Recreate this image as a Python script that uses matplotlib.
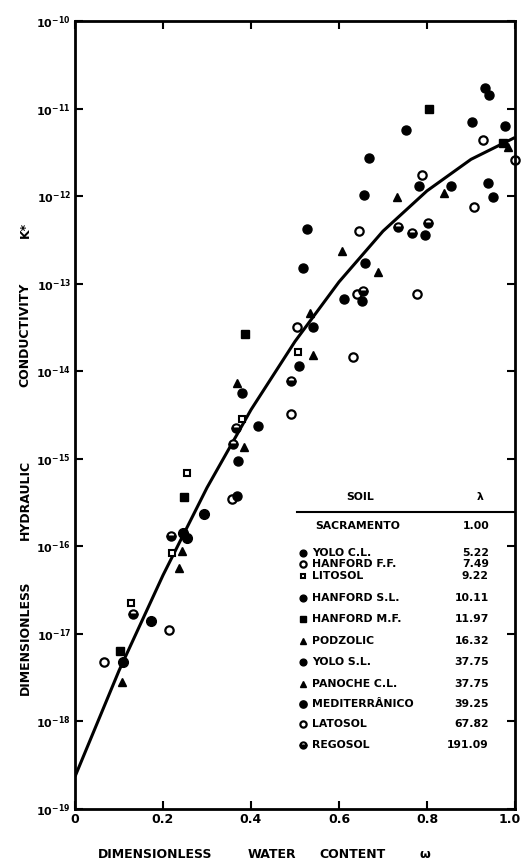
import matplotlib
matplotlib.use("Agg")
import matplotlib.pyplot as plt
import matplotlib.transforms as mtransforms
from matplotlib.ticker import NullLocator
import numpy as np

# Sacramento reference curve, log10 K*
curve_w = [0.0, 0.1, 0.2, 0.3, 0.4, 0.5, 0.6, 0.7, 0.8, 0.9, 1.0]
curve_logk = [-18.63, -17.42, -16.33, -15.33, -14.44, -13.66, -12.98, -12.40, -11.94, -11.58, -11.33]

# measured points per soil: water content w and log10 K*
yolo_cl_w = [0.932, 0.902, 0.752, 0.668, 0.657, 0.527, 0.518]
yolo_cl_k = [-10.76, -11.15, -11.24, -11.57, -11.99, -12.38, -12.82]

hanford_ff_w = [0.927, 0.789, 0.907, 0.645, 0.777, 0.632, 0.491, 0.357, 0.214, 0.066]
hanford_ff_k = [-11.36, -11.76, -12.13, -12.40, -13.12, -13.84, -14.49, -15.46, -16.96, -17.32]

litosol_w = [0.507, 0.380, 0.255, 0.220, 0.127]
litosol_k = [-13.78, -14.54, -15.16, -16.08, -16.65]

hanford_sl_w = [0.941, 0.977, 0.782, 0.855, 0.939, 0.950, 0.795, 0.659]
hanford_sl_k = [-10.85, -11.20, -11.89, -11.88, -11.85, -12.01, -12.44, -12.76]

hanford_mf_w = [0.805, 0.973, 0.386, 0.248, 0.102]
hanford_mf_k = [-11.01, -11.39, -13.58, -15.44, -17.20]

podzolic_w = [0.732, 0.839, 0.607, 0.689, 0.534, 0.541]
podzolic_k = [-12.01, -11.97, -12.63, -12.87, -13.34, -13.82]

yolo_sl_w = [0.611, 0.652, 0.541, 0.509, 0.380, 0.416, 0.370, 0.368]
yolo_sl_k = [-13.17, -13.20, -13.50, -13.94, -14.25, -14.63, -15.02, -15.42]

panoche_w = [0.984, 0.368, 0.384, 0.243, 0.236, 0.107]
panoche_k = [-11.44, -14.14, -14.87, -16.05, -16.25, -17.55]

mediterranico_w = [0.293, 0.245, 0.255, 0.173, 0.109]
mediterranico_k = [-15.63, -15.85, -15.90, -16.85, -17.32]

latosol_w = [1.0, 0.641, 0.505]
latosol_k = [-11.59, -13.12, -13.49]

regosol_w = [0.734, 0.766, 0.802, 0.655, 0.491, 0.366, 0.359, 0.218, 0.132]
regosol_k = [-12.35, -12.42, -12.31, -13.08, -14.11, -14.65, -14.83, -15.88, -16.77]

soil_names = ["YOLO C.L.", "HANFORD F.F.", "LITOSOL", "HANFORD S.L.", "HANFORD M.F.",
              "PODZOLIC", "YOLO S.L.", "PANOCHE C.L.", "MEDITERRÂNICO", "LATOSOL", "REGOSOL"]
soil_lambda = ["5.22", "7.49", "9.22", "10.11", "11.97", "16.32", "37.75", "37.75", "39.25", "67.82", "191.09"]

x_ticks = [0, 0.2, 0.4, 0.6, 0.8, 1.0]
x_ticklabels = ["0", "0.2", "0.4", "0.6", "0.8", "1.0"]
y_exps = list(range(-19, -9))

# marker styles per soil (same order as soil_names)
styles = [
    dict(marker="o", ms=6.5, mfc="black"),
    dict(marker="o", ms=6, mfc="white", mew=1.6),
    dict(marker="s", ms=4.5, mfc="white", mew=1.5),
    dict(marker="o", ms=6.5, mfc="black"),
    dict(marker="s", ms=5.5, mfc="black"),
    dict(marker="^", ms=6, mfc="black"),
    dict(marker="o", ms=6.5, mfc="black"),
    dict(marker="^", ms=5.5, mfc="black"),
    dict(marker="o", ms=7, mfc="black"),
    dict(marker="o", ms=6, mfc="white", mew=1.6),
    dict(marker="o", ms=6, mfc="black", fillstyle="bottom", markerfacecoloralt="white", mew=1.5),
]
series = [(yolo_cl_w, yolo_cl_k), (hanford_ff_w, hanford_ff_k), (litosol_w, litosol_k),
          (hanford_sl_w, hanford_sl_k), (hanford_mf_w, hanford_mf_k), (podzolic_w, podzolic_k),
          (yolo_sl_w, yolo_sl_k), (panoche_w, panoche_k), (mediterranico_w, mediterranico_k),
          (latosol_w, latosol_k), (regosol_w, regosol_k)]

W, H = 523, 867
fig = plt.figure(figsize=(W / 100, H / 100), dpi=100)
ax = fig.add_axes([75 / W, 1 - 809 / H, 440 / W, 788 / H])

ax.plot(curve_w, 10.0 ** np.array(curve_logk), color="black", lw=2.2, solid_capstyle="butt")

for (w, k), st in zip(series, styles):
    ax.plot(w, 10.0 ** np.array(k), ls="none", mec="black", clip_on=False, **st)

ax.set_xlim(0, 1.0)
ax.set_yscale("log")
ax.set_ylim(1e-19, 1e-10)
ax.set_xticks(x_ticks)
ax.set_xticklabels(x_ticklabels, fontsize=9, fontweight="bold")
ax.set_yticks([10.0 ** e for e in y_exps])
ax.set_yticklabels([r"$\mathbf{10^{%d}}$" % e for e in y_exps], fontsize=8)
ax.yaxis.set_minor_locator(NullLocator())
ax.tick_params(which="both", direction="in", top=True, right=True, length=6, width=1.5, pad=3)
for sp in ax.spines.values():
    sp.set_linewidth(2)

# keep the last x label inside the figure, as in the scan
last = ax.get_xticklabels()[-1]
last.set_transform(last.get_transform() + mtransforms.ScaledTranslation(-5 / 100, 0, fig.dpi_scale_trans))

# legend table drawn inside the axes (pixel positions converted to axes fraction)
def ax_xy(px, py):
    return (px - 75) / 440, (809 - py) / 788

tkw = dict(transform=ax.transAxes, fontsize=7.8, fontweight="bold", va="center")
ax.text(*ax_xy(360, 497), "SOIL", ha="center", **tkw)
ax.text(*ax_xy(480, 497), "λ", ha="center", **tkw)
ax.plot([ax_xy(297, 0)[0], 1.0], [ax_xy(0, 512)[1]] * 2, color="black", lw=1.5,
        transform=ax.transAxes, clip_on=False)
ax.text(*ax_xy(315, 526), "SACRAMENTO", ha="left", **tkw)
ax.text(*ax_xy(490, 526), "1.00", ha="right", **tkw)

row_y = [553, 564, 576, 598, 619, 641, 662, 684, 704, 724, 745]
for name, lam, st, py in zip(soil_names, soil_lambda, styles, row_y):
    mx, my = ax_xy(303, py)
    st2 = dict(st)
    st2["ms"] = st["ms"] * 0.75
    ax.plot([mx], [my], transform=ax.transAxes, ls="none", mec="black", clip_on=False, **st2)
    ax.text(*ax_xy(312, py), name, ha="left", **tkw)
    ax.text(*ax_xy(489, py), lam, ha="right", **tkw)

# axis titles, word by word as spaced in the original
lab = dict(fontsize=9, fontweight="bold", ha="center", va="center")
for word, py in [("DIMENSIONLESS", 638), ("HYDRAULIC", 500), ("CONDUCTIVITY", 335), ("K*", 230)]:
    fig.text(25 / W, 1 - py / H, word, rotation=90, **lab)
for word, px in [("DIMENSIONLESS", 155), ("WATER", 272), ("CONTENT", 353), ("ω", 425)]:
    fig.text(px / W, 1 - 855 / H, word, **lab)

fig.savefig("out.png", dpi=100)
